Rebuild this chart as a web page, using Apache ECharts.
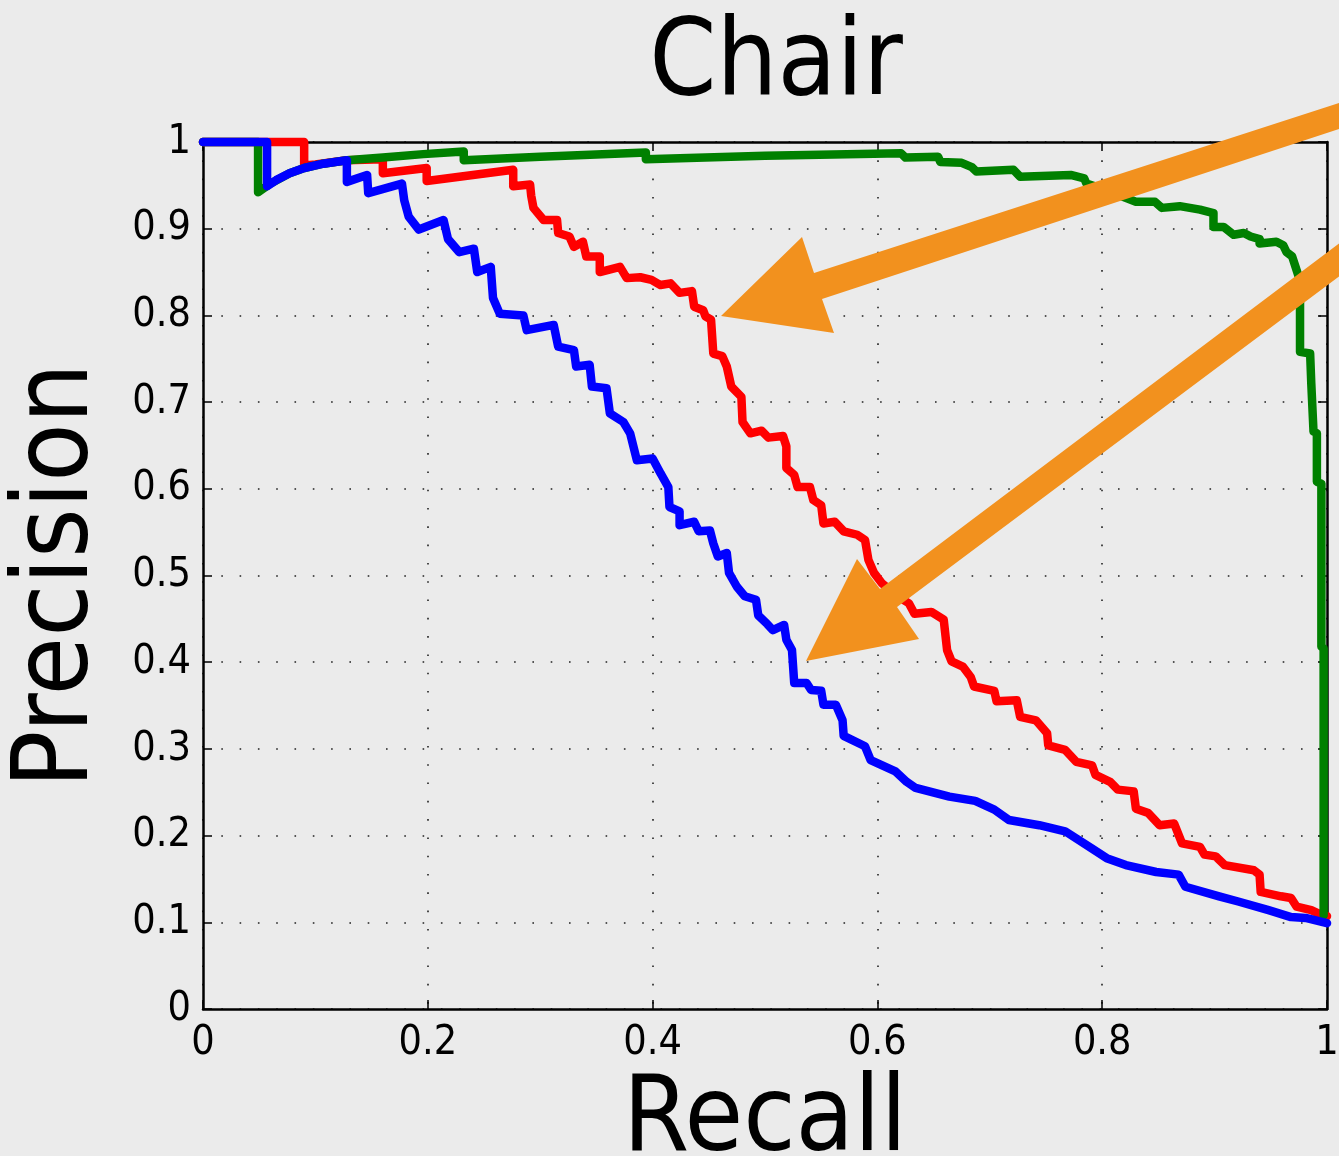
<!DOCTYPE html>
<html><head><meta charset="utf-8">
<script src="https://cdn.jsdelivr.net/npm/echarts@6/dist/echarts.min.js"></script>
<style>html,body{margin:0;padding:0;background:#ebebeb;}#c{width:1339px;height:1156px;}</style>
</head><body><div id="c"></div>
<script>
const titleText = 'Chair';
const xName = 'Recall';
const yName = 'Precision';
const xTicks = [0, 0.2, 0.4, 0.6, 0.8, 1];
const yTicks = [0, 0.1, 0.2, 0.3, 0.4, 0.5, 0.6, 0.7, 0.8, 0.9, 1];

// [recall, precision]
const redPR = [[0,1],[0.090,1],[0.090,0.973],[0.100,0.974],[0.128,0.979],[0.160,0.980],[0.160,0.964],[0.199,0.970],[0.199,0.955],[0.276,0.968],[0.276,0.949],[0.291,0.951],[0.292,0.938],[0.294,0.924],[0.303,0.910],[0.315,0.910],[0.316,0.895],[0.326,0.891],[0.330,0.879],[0.338,0.885],[0.341,0.868],[0.353,0.868],[0.353,0.850],[0.371,0.856],[0.377,0.843],[0.389,0.844],[0.399,0.841],[0.407,0.835],[0.416,0.837],[0.424,0.826],[0.435,0.828],[0.437,0.810],[0.445,0.806],[0.447,0.799],[0.452,0.795],[0.454,0.756],[0.462,0.753],[0.466,0.741],[0.470,0.718],[0.479,0.706],[0.480,0.677],[0.487,0.664],[0.497,0.667],[0.503,0.659],[0.516,0.661],[0.519,0.649],[0.519,0.624],[0.526,0.616],[0.529,0.602],[0.540,0.602],[0.543,0.587],[0.550,0.581],[0.552,0.560],[0.562,0.562],[0.570,0.551],[0.582,0.547],[0.589,0.541],[0.592,0.518],[0.597,0.503],[0.604,0.491],[0.618,0.476],[0.628,0.468],[0.633,0.456],[0.648,0.458],[0.659,0.449],[0.662,0.414],[0.666,0.401],[0.676,0.395],[0.683,0.383],[0.686,0.372],[0.704,0.367],[0.706,0.355],[0.724,0.356],[0.727,0.337],[0.741,0.333],[0.751,0.318],[0.752,0.304],[0.767,0.299],[0.777,0.285],[0.791,0.281],[0.794,0.270],[0.807,0.262],[0.814,0.253],[0.828,0.251],[0.830,0.231],[0.841,0.226],[0.851,0.212],[0.864,0.214],[0.871,0.191],[0.887,0.187],[0.891,0.178],[0.901,0.176],[0.909,0.166],[0.935,0.160],[0.940,0.155],[0.941,0.135],[0.959,0.130],[0.968,0.128],[0.973,0.118],[0.986,0.114],[0.996,0.108],[1.0,0.107]];

const greenPR = [[0,1],[0.049,1],[0.049,0.942],[0.060,0.952],[0.077,0.964],[0.090,0.970],[0.107,0.975],[0.128,0.979],[0.160,0.982],[0.196,0.986],[0.232,0.989],[0.232,0.979],[0.300,0.983],[0.394,0.988],[0.394,0.980],[0.500,0.984],[0.621,0.987],[0.625,0.982],[0.654,0.983],[0.656,0.977],[0.675,0.976],[0.684,0.971],[0.688,0.966],[0.721,0.968],[0.727,0.960],[0.772,0.962],[0.784,0.958],[0.786,0.952],[0.800,0.946],[0.822,0.935],[0.830,0.931],[0.847,0.931],[0.853,0.924],[0.869,0.926],[0.887,0.922],[0.899,0.918],[0.899,0.902],[0.908,0.902],[0.917,0.893],[0.926,0.895],[0.932,0.891],[0.940,0.888],[0.940,0.883],[0.955,0.885],[0.961,0.881],[0.964,0.873],[0.969,0.868],[0.972,0.856],[0.976,0.840],[0.976,0.758],[0.985,0.756],[0.986,0.722],[0.988,0.666],[0.991,0.664],[0.991,0.608],[0.995,0.606],[0.995,0.418],[0.997,0.416],[0.997,0.108]];

const bluePR = [[0,1],[0.057,1],[0.057,0.949],[0.065,0.956],[0.077,0.964],[0.090,0.970],[0.107,0.975],[0.128,0.979],[0.128,0.954],[0.146,0.962],[0.147,0.941],[0.177,0.952],[0.179,0.933],[0.183,0.914],[0.192,0.899],[0.214,0.910],[0.218,0.888],[0.228,0.873],[0.241,0.877],[0.244,0.850],[0.256,0.856],[0.258,0.820],[0.264,0.802],[0.285,0.800],[0.288,0.783],[0.312,0.789],[0.316,0.764],[0.330,0.760],[0.332,0.741],[0.344,0.743],[0.346,0.718],[0.359,0.716],[0.362,0.687],[0.374,0.677],[0.380,0.664],[0.386,0.633],[0.400,0.635],[0.407,0.618],[0.414,0.602],[0.415,0.579],[0.424,0.574],[0.424,0.558],[0.437,0.562],[0.441,0.551],[0.451,0.552],[0.454,0.537],[0.458,0.522],[0.466,0.526],[0.468,0.503],[0.475,0.487],[0.482,0.476],[0.492,0.472],[0.494,0.454],[0.502,0.444],[0.507,0.437],[0.517,0.443],[0.519,0.426],[0.524,0.414],[0.526,0.376],[0.537,0.376],[0.541,0.368],[0.550,0.367],[0.552,0.351],[0.563,0.351],[0.569,0.333],[0.570,0.315],[0.589,0.303],[0.594,0.287],[0.616,0.274],[0.626,0.262],[0.634,0.255],[0.652,0.249],[0.664,0.245],[0.687,0.240],[0.704,0.230],[0.717,0.218],[0.744,0.212],[0.767,0.205],[0.791,0.185],[0.804,0.174],[0.821,0.166],[0.848,0.158],[0.868,0.155],[0.874,0.141],[0.904,0.130],[0.921,0.124],[0.948,0.114],[0.968,0.106],[0.981,0.105],[1.0,0.099]];

const FONT = "'DejaVu Sans Condensed', 'DejaVu Sans', sans-serif";
const chart = echarts.init(document.getElementById('c'), null, {renderer: 'canvas'});

function axisCommon(isX, pos, main) {
  const ticks = isX ? xTicks : yTicks;
  return {
    type: 'value', min: ticks[0], max: ticks[ticks.length - 1],
    interval: ticks[1] - ticks[0], position: pos,
    axisLine: {show: true, onZero: false, lineStyle: {color: '#000', width: 2.5}},
    axisTick: {show: true, inside: true, length: 9, lineStyle: {color: '#000', width: 1.5}},
    axisLabel: {show: main, fontSize: 41, color: '#000', fontFamily: FONT, margin: isX ? 14 : 12},
    splitLine: {show: main, lineStyle: {color: '#222', width: 1.6, type: [1.6, 16.7]}},
    name: main ? (isX ? xName : yName) : '',
    nameLocation: 'middle',
    nameGap: isX ? 60 : 91,
    nameRotate: isX ? 0 : 90,
    nameTextStyle: {fontSize: 106, color: '#000', fontFamily: FONT}
  };
}

function mkLine(data, color) {
  return {type: 'line', data: data, showSymbol: false, symbol: 'none',
    lineStyle: {color: color, width: 8.5, join: 'round', cap: 'round'},
    itemStyle: {color: color}, animation: false, clip: false};
}

const orange = '#f2911e';
chart.setOption({
  backgroundColor: '#ebebeb',
  animation: false,
  title: {text: titleText, left: 771, top: 8, textAlign: 'center',
    textStyle: {fontSize: 107, fontWeight: 'normal', color: '#000', fontFamily: FONT}},
  grid: {left: 203, right: 12, top: 142, bottom: 147, containLabel: false, outerBoundsMode: 'none'},
  xAxis: [axisCommon(true, 'bottom', true), axisCommon(true, 'top', false)],
  yAxis: [axisCommon(false, 'left', true), axisCommon(false, 'right', false)],
  series: [mkLine(redPR, '#ff0000'), mkLine(greenPR, '#008000'), mkLine(bluePR, '#0000ff')],
  graphic: [
    {type: 'polygon', z: 100, shape: {points: [[721,316],[802,237],[814,273],[1345,101],[1345,127],[822,299],[834,333]]}, style: {fill: orange}},
    {type: 'polygon', z: 100, shape: {points: [[806,661],[857,559],[880,589],[1345,239],[1345,272],[897,607],[919,639]]}, style: {fill: orange}}
  ]
});
</script></body></html>
